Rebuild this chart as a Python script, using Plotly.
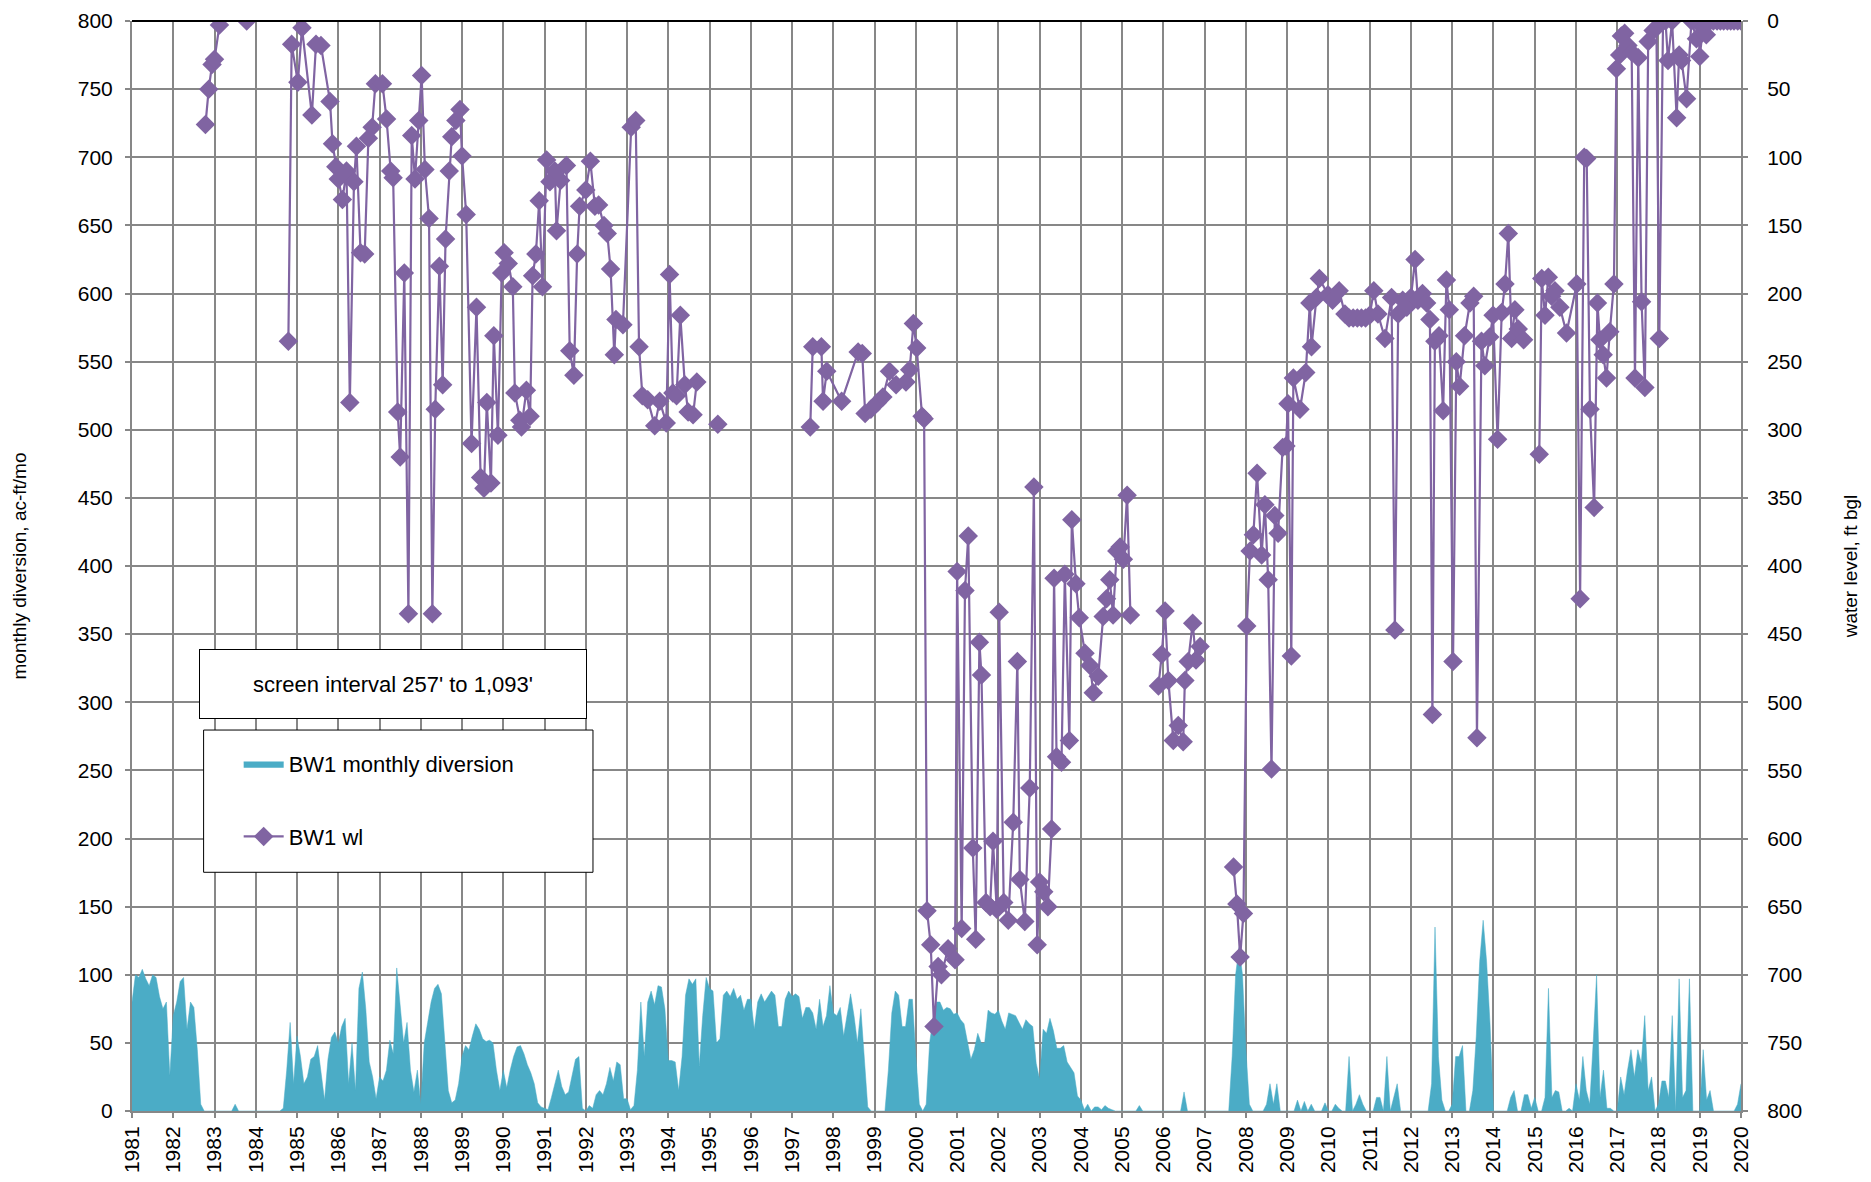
import plotly.graph_objects as go

# monthly diversion, ac-ft/mo, Jan 1981 .. Jan 2020 (one list per year)
div_1981 = [80, 100, 98, 104, 97, 92, 100, 98, 84, 75, 80, 26]
div_1982 = [70, 80, 95, 98, 60, 80, 76, 45, 5, 0, 0, 0]
div_1983 = [0, 0, 0, 0, 0, 0, 5, 0, 0, 0, 0, 0]
div_1984 = [0, 0, 0, 0, 0, 0, 0, 0, 2, 30, 65, 20]
div_1985 = [55, 40, 20, 25, 38, 40, 48, 28, 8, 38, 54, 58]
div_1986 = [50, 62, 68, 20, 50, 15, 90, 102, 75, 36, 25, 9]
div_1987 = [25, 22, 30, 52, 42, 105, 80, 50, 65, 30, 14, 30]
div_1988 = [5, 50, 65, 80, 90, 93, 86, 50, 15, 6, 8, 20]
div_1989 = [40, 48, 45, 55, 64, 60, 53, 51, 52, 50, 30, 15]
div_1990 = [30, 17, 30, 40, 47, 48, 42, 34, 28, 20, 6, 3]
div_1991 = [2, 1, 10, 20, 30, 18, 12, 14, 25, 38, 40, 2]
div_1992 = [0, 4, 2, 12, 15, 12, 20, 32, 22, 36, 34, 9]
div_1993 = [9, 1, 4, 30, 80, 40, 80, 88, 78, 92, 91, 75]
div_1994 = [37, 37, 36, 15, 40, 85, 97, 93, 97, 33, 70, 98]
div_1995 = [90, 88, 50, 53, 85, 88, 84, 90, 82, 85, 74, 82]
div_1996 = [82, 60, 80, 86, 80, 84, 88, 85, 62, 62, 82, 88]
div_1997 = [84, 86, 84, 68, 76, 76, 72, 60, 82, 62, 70, 92]
div_1998 = [72, 70, 76, 55, 70, 86, 70, 50, 75, 35, 3, 0]
div_1999 = [0, 0, 0, 0, 30, 72, 88, 85, 62, 62, 82, 82]
div_2000 = [40, 5, 0, 5, 50, 68, 80, 80, 74, 76, 75, 71]
div_2001 = [72, 67, 64, 52, 38, 45, 57, 50, 50, 74, 72, 71]
div_2002 = [74, 66, 60, 72, 71, 70, 65, 60, 67, 64, 62, 35]
div_2003 = [23, 60, 57, 68, 59, 46, 46, 48, 36, 32, 28, 11]
div_2004 = [8, 1, 5, 0, 3, 3, 1, 4, 2, 1, 0, 0]
div_2005 = [0, 0, 0, 0, 0, 4, 0, 0, 0, 0, 0, 0]
div_2006 = [0, 0, 0, 0, 0, 0, 14, 0, 0, 0, 0, 0]
div_2007 = [0, 0, 0, 0, 0, 0, 0, 0, 40, 100, 120, 100]
div_2008 = [45, 5, 0, 0, 0, 0, 5, 20, 5, 20, 0, 0]
div_2009 = [0, 0, 0, 8, 0, 7, 0, 5, 0, 0, 0, 6]
div_2010 = [0, 0, 5, 2, 0, 0, 40, 0, 5, 12, 5, 0]
div_2011 = [0, 0, 10, 10, 0, 40, 0, 10, 20, 0, 0, 0]
div_2012 = [0, 0, 0, 0, 0, 0, 20, 135, 40, 8, 0, 0]
div_2013 = [5, 40, 40, 48, 0, 0, 15, 55, 110, 140, 110, 64]
div_2014 = [0, 0, 0, 0, 0, 10, 15, 0, 0, 12, 12, 2]
div_2015 = [10, 0, 0, 10, 90, 10, 15, 14, 0, 0, 2, 0]
div_2016 = [20, 8, 40, 15, 5, 50, 100, 10, 30, 2, 2, 0]
div_2017 = [0, 25, 12, 30, 45, 25, 45, 35, 70, 15, 25, 0]
div_2018 = [5, 22, 22, 10, 70, 0, 97, 10, 15, 97, 0, 0]
div_2019 = [0, 45, 8, 15, 0, 0, 0, 0, 0, 0, 0, 5]
div_2020 = [20]

# BW1 water level (decimal year, ft bgl); None marks a gap in the record
wl_year = [
    1982.78, 1982.86, 1982.94, 1983.0, 1983.12, 1983.45, 1983.78, 1984.3,
    1984.79, 1984.87, 1985.02, 1985.12, 1985.36, 1985.46, 1985.58,
    1985.8, 1985.86, 1985.94, 1986.0, 1986.1, 1986.2, 1986.28, 1986.38,
    1986.44, 1986.54, 1986.64, 1986.73, 1986.82, 1986.9, 1987.07, 1987.17,
    1987.27, 1987.33, 1987.44, 1987.5, 1987.6, 1987.7, 1987.78, 1987.86,
    1987.95, 1988.02, 1988.1, 1988.2, 1988.28, 1988.35, 1988.45, 1988.53,
    1988.6, 1988.69, 1988.75, 1988.85, 1988.95, 1989.0, 1989.1, 1989.23,
    1989.35, 1989.45, 1989.53, 1989.6, 1989.7, 1989.77, 1989.87, 1989.96,
    1990.02, 1990.12, 1990.23, 1990.28, 1990.4, 1990.44, 1990.56, 1990.65,
    1990.71, 1990.79, 1990.87, 1990.95, 1991.05, 1991.13, 1991.25, 1991.29,
    1991.39, 1991.53, 1991.61, 1991.71, 1991.79, 1991.85, 1992.0, 1992.11,
    1992.22, 1992.31, 1992.44, 1992.52, 1992.6, 1992.69, 1992.73, 1992.9,
    1993.1, 1993.21, 1993.29, 1993.37, 1993.5, 1993.67, 1993.79, 1993.95,
    1994.03, 1994.11, 1994.2, 1994.29, 1994.4, 1994.48, 1994.6, 1994.69,
    1994.95, 1995.2, 1996.3,
    1997.44, 1997.5, 1997.71, 1997.75, 1997.84, 1998.2, 1998.6, 1998.7,
    1998.77, 1998.91, 1999.07, 1999.2, 1999.36, 1999.52, 1999.76, 1999.85,
    1999.94, 2000.02, 2000.15, 2000.2, 2000.27, 2000.36, 2000.44, 2000.54,
    2000.62, 2000.78, 2000.95, 2001.0, 2001.11, 2001.19, 2001.27, 2001.38,
    2001.45, 2001.54, 2001.59, 2001.7, 2001.8, 2001.87, 2001.96, 2002.02,
    2002.13, 2002.24, 2002.36, 2002.46, 2002.52, 2002.64, 2002.76, 2002.86,
    2002.94, 2003.0, 2003.1, 2003.2, 2003.29, 2003.35, 2003.41, 2003.53,
    2003.61, 2003.72, 2003.78, 2003.88, 2003.96, 2004.1, 2004.22, 2004.3,
    2004.42, 2004.54, 2004.62, 2004.7, 2004.78, 2004.87, 2004.95, 2005.03,
    2005.12, 2005.2, 2005.5,
    2005.88, 2005.96, 2006.04, 2006.12, 2006.24, 2006.36, 2006.48, 2006.52,
    2006.6, 2006.71, 2006.79, 2006.89, 2007.3,
    2007.7, 2007.78, 2007.86, 2007.94, 2008.02, 2008.1, 2008.18, 2008.27,
    2008.38, 2008.46, 2008.54, 2008.62, 2008.7, 2008.78, 2008.89, 2008.97,
    2009.02, 2009.1, 2009.15, 2009.31, 2009.45, 2009.55, 2009.59, 2009.71,
    2009.78, 2009.99, 2010.1, 2010.26, 2010.4, 2010.5, 2010.6, 2010.7,
    2010.8, 2010.9, 2011.0, 2011.1, 2011.2, 2011.37, 2011.53, 2011.61,
    2011.69, 2011.8, 2011.9, 2012.0, 2012.1, 2012.17, 2012.28, 2012.38,
    2012.46, 2012.52, 2012.58, 2012.68, 2012.78, 2012.86, 2012.93, 2013.02,
    2013.1, 2013.18, 2013.3, 2013.43, 2013.52, 2013.6, 2013.71, 2013.79,
    2013.91, 2013.99, 2014.1, 2014.2, 2014.28, 2014.36, 2014.44, 2014.52,
    2014.6, 2014.73, 2014.9,
    2015.11, 2015.17, 2015.25, 2015.33, 2015.41, 2015.49, 2015.61, 2015.77,
    2016.02, 2016.1, 2016.2, 2016.26, 2016.34, 2016.44, 2016.52, 2016.58,
    2016.66, 2016.74, 2016.82, 2016.92, 2016.98, 2017.06, 2017.1, 2017.18,
    2017.26, 2017.35, 2017.43, 2017.51, 2017.59, 2017.67, 2017.75, 2017.87,
    2017.95, 2018.02, 2018.11, 2018.17, 2018.23, 2018.33, 2018.44, 2018.5,
    2018.56, 2018.68, 2018.8, 2018.92, 2018.96, 2019.0, 2019.08, 2019.16,
    2019.25, 2019.33, 2019.42, 2019.5, 2019.58, 2019.67, 2019.75, 2019.83,
    2019.92, 2020.0,
]
wl_ft = [
    76, 50, 32, 28, 3, None, 0, None,
    235, 17, 45, 5, 69, 17, 18,
    59, 90, 107, 116, 131, 110, 280, 118,
    92, 170, 171, 86, 78, 46, 46, 72,
    110, 115, 287, 320, 185, 435, 84, 116,
    73, 40, 109, 145, 435, 285, 180, 267,
    160, 110, 85, 73, 65, 99, 142, 310,
    210, 335, 343, 280, 339, 231, 304, 185,
    170, 178, 195, 273, 293, 298, 271, 290,
    187, 171, 132, 195, 102, 118, 110, 154,
    117, 106, 242, 260, 171, 136, 124, 103,
    136, 135, 150, 156, 182, 245, 219, 223,
    78, 73, 239, 275, 278, 297, 279, 295,
    186, 273, 275, 216, 267, 287, 289, 265,
    None, 296, None,
    298, 239, 239, 279, 257, 279, 243, 244,
    288, 285, 280, 276, 257, 267, 265, 256,
    222, 240, 290, 292, 653, 678, 738, 694,
    700, 681, 689, 404, 666, 418, 378, 607,
    674, 456, 480, 647, 650, 602, 652, 434,
    647, 660, 588, 470, 630, 661, 563, 342,
    678, 632, 639, 650, 593, 409, 540, 544,
    406, 528, 366, 413, 438, 464, 473, 493,
    481, 437, 424, 410, 436, 389, 386, 395,
    348, 436, None,
    488, 465, 433, 484, 528, 517, 529, 484,
    470, 442, 469, 459, None,
    621, 648, 687, 655, 444, 389, 377, 332,
    392, 355, 410, 549, 363, 376, 313, 312,
    281, 466, 262, 285, 258, 207, 239, 203,
    189, 201, 205, 198, 215, 218, 218, 218,
    218, 218, 216, 198, 215, 233, 203, 447,
    215, 205, 210, 203, 175, 205, 200, 207,
    219, 509, 235, 231, 286, 190, 212, 470,
    250, 268, 231, 207, 202, 526, 235, 253,
    232, 216, 307, 214, 193, 156, 233, 212,
    226, 234, None,
    318, 189, 216, 188, 202, 198, 210, 229,
    193, 424, 100, 101, 285, 357, 207, 234,
    245, 262, 228, 193, 35, 25, 11, 9,
    18, 23, 262, 27, 206, 269, 15, 7,
    5, 233, 0, 0, 29, 0, 71, 25,
    29, 57, 0, 13, 0, 26, 5, 10,
    0, 0, 0, 0, 0, 0, 0, 0,
    0, 0,
]

years = list(range(1981, 2021))

diversion = (div_1981 + div_1982 + div_1983 + div_1984 + div_1985 + div_1986
             + div_1987 + div_1988 + div_1989 + div_1990 + div_1991 + div_1992
             + div_1993 + div_1994 + div_1995 + div_1996 + div_1997 + div_1998
             + div_1999 + div_2000 + div_2001 + div_2002 + div_2003 + div_2004
             + div_2005 + div_2006 + div_2007 + div_2008 + div_2009 + div_2010
             + div_2011 + div_2012 + div_2013 + div_2014 + div_2015 + div_2016
             + div_2017 + div_2018 + div_2019 + div_2020)
div_x = [1981 + i / 12 for i in range(len(diversion))]

TEAL = "#4BACC6"
PURPLE = "#8064A2"
GRID = "#878787"
FONT = "Liberation Sans, Arial, sans-serif"

fig = go.Figure()
fig.add_trace(go.Scatter(
    x=div_x, y=diversion, name="BW1 monthly diversion",
    mode="lines", fill="tozeroy", fillcolor=TEAL,
    line=dict(color=TEAL, width=0.5), legendgroup="a",
))
fig.add_trace(go.Scatter(
    x=wl_year, y=wl_ft, name="BW1 wl", yaxis="y2",
    mode="lines+markers", connectgaps=False,
    line=dict(color=PURPLE, width=2.2),
    marker=dict(symbol="diamond", size=15, color=PURPLE),
    legendgroup="b",
))

# page body has an 8px margin, so the figure is a bit smaller than the window
fig.update_layout(
    width=1855, height=1166,
    margin=dict(l=124, r=122, t=13, b=63),
    paper_bgcolor="white", plot_bgcolor="white",
    font=dict(family=FONT, size=20, color="black"),
    showlegend=True,
    legend=dict(
        x=0.0663, y=0.3376, xanchor="left", yanchor="top",
        bgcolor="rgba(0,0,0,0)", borderwidth=0,
        font=dict(size=22), tracegroupgap=41, traceorder="grouped",
        itemwidth=40,
    ),
    xaxis=dict(
        range=[1981, 2020], tickmode="array", tickvals=years,
        ticktext=[str(y) for y in years], tickangle=-90, automargin=False,
        showgrid=True, gridcolor=GRID, gridwidth=2,
        showline=True, linecolor=GRID, linewidth=2,
        ticks="outside", ticklen=5, tickcolor=GRID, tickwidth=2,
        zeroline=False, tickfont=dict(size=21),
    ),
    yaxis=dict(
        range=[0, 800], dtick=50, automargin=False, ticklabelstandoff=8,
        title=dict(text="monthly diversion, ac-ft/mo", font=dict(size=19), standoff=46),
        showgrid=True, gridcolor=GRID, gridwidth=2,
        showline=True, linecolor=GRID, linewidth=2,
        ticks="outside", ticklen=5, tickcolor=GRID, tickwidth=2,
        zeroline=False, tickfont=dict(size=21),
    ),
    yaxis2=dict(
        range=[800, 0], dtick=50, overlaying="y", side="right", automargin=False,
        ticklabelstandoff=15,
        title=dict(text="water level, ft bgl", font=dict(size=19), standoff=42),
        showgrid=False, showline=True, linecolor=GRID, linewidth=2,
        ticks="outside", ticklen=5, tickcolor=GRID, tickwidth=2,
        zeroline=False, tickfont=dict(size=21),
    ),
    shapes=[
        dict(type="line", xref="paper", yref="paper", x0=0, x1=1, y0=1, y1=1,
             line=dict(color="black", width=2), layer="above"),
        dict(type="rect", xref="paper", yref="paper",
             x0=0.0445, x1=0.2865, y0=0.219, y1=0.3495,
             fillcolor="white", line=dict(color="black", width=1), layer="above"),
    ],
    annotations=[
        dict(text="screen interval 257' to 1,093'", xref="paper", yref="paper",
             x=0.1625, y=0.3915, xanchor="center", yanchor="middle",
             showarrow=False, font=dict(size=22), bgcolor="white",
             bordercolor="black", borderwidth=1, width=384, height=66),
    ],
)

fig.write_html("out.html")
